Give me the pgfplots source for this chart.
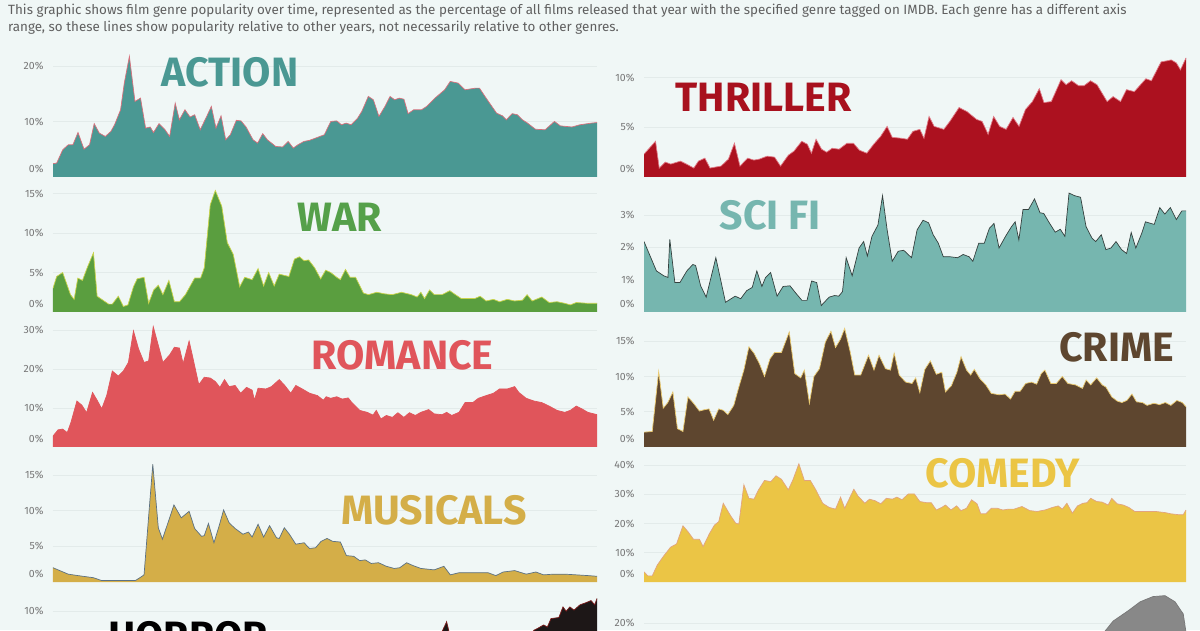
\documentclass[border=0pt]{standalone}
\usepackage{pgfplots}
\pgfplotsset{compat=1.18}
\usepackage{pgfplotstable}
\usepackage{fontspec}
\setmainfont{Fira Sans}

\definecolor{bg}{HTML}{F0F7F6}
\definecolor{gridc}{HTML}{E3EBEA}
\definecolor{tickc}{HTML}{767676}
\definecolor{capc}{HTML}{606060}
\definecolor{actionF}{HTML}{4A9893}
\definecolor{actionL}{HTML}{D8707C}
\definecolor{thrF}{HTML}{AC111F}
\definecolor{thrL}{HTML}{E07A86}
\definecolor{thrT}{HTML}{A8111E}
\definecolor{warF}{HTML}{5A9E3F}
\definecolor{warL}{HTML}{C9D34B}
\definecolor{warT}{HTML}{55A04A}
\definecolor{sciF}{HTML}{76B6AF}
\definecolor{sciL}{HTML}{35403E}
\definecolor{romF}{HTML}{E0555B}
\definecolor{romL}{HTML}{E0555B}
\definecolor{crimeF}{HTML}{5E462F}
\definecolor{crimeL}{HTML}{EBCB72}
\definecolor{musF}{HTML}{D4AE48}
\definecolor{musL}{HTML}{5B7184}
\definecolor{comF}{HTML}{EBC545}
\definecolor{comL}{HTML}{E2A47F}
\definecolor{horF}{HTML}{1D1717}
\definecolor{horL}{HTML}{7A1A1A}
\definecolor{greyF}{HTML}{888888}
\definecolor{greyL}{HTML}{777777}

\pgfplotstableread{
year pct
1900 2.4
1900.8 2.5
1902.1 4.9
1903.3 5.8
1904.3 5.8
1905.4 8.0
1906.7 5.0
1907.9 5.8
1908.9 9.6
1910 7.9
1911.3 7.3
1912.5 8.2
1913.3 9.4
1914.6 12.1
1915.4 16.9
1916.5 21.7
1917.7 13.6
1918.9 14.2
1920 8.8
1921 9.0
1921.7 8.0
1922.9 9.6
1924.2 8.5
1925.2 7.3
1926.4 13.3
1927.3 10.3
1928.5 12.1
1929.6 10.8
1930.6 11.2
1931.8 8.5
1933.2 10.9
1934.2 12.7
1935.2 8.8
1936.3 11.0
1937.3 6.7
1938.3 7.6
1939.6 10.2
1940.6 10.1
1941.7 9.0
1943.2 6.7
1944.2 6.1
1945.3 7.8
1946.3 6.7
1948.1 5.5
1949.6 5.4
1950.8 6.4
1951.9 5.2
1952.9 5.8
1954.2 6.4
1955.4 6.6
1956.7 7.0
1958.6 7.6
1960 10.0
1961.3 10.1
1962.3 9.4
1963.3 9.7
1964.4 9.4
1965.8 10.6
1966.7 11.8
1968.1 14.5
1969.2 13.9
1970.4 10.9
1971.7 12.7
1972.8 14.5
1973.8 13.9
1974.8 14.2
1975.8 14.0
1976.7 11.4
1977.9 12.1
1979.6 12.1
1980.7 12.7
1982.5 14.2
1984.6 15.7
1985.8 17.2
1987.5 16.9
1989 15.7
1991.3 16.0
1992.1 16.0
1993.8 13.9
1995.8 11.5
1997.1 11.0
1997.9 10.3
1999.2 11.4
2000.3 11.2
2001.4 10.3
2002.5 9.7
2004.2 8.6
2006.3 8.5
2008.3 10.0
2009.6 9.2
2012.1 9.0
2013.8 9.4
2016.3 9.7
2017.5 9.8
}\actiondata

\pgfplotstableread{
year pct
1900 2.3
1902.5 3.6
1903.3 0.9
1904.6 1.5
1905.8 1.3
1907.9 1.6
1909.2 1.3
1910.8 0.9
1911.8 1.6
1913.2 1.9
1914.3 0.9
1916.7 1.1
1918.3 1.8
1919.6 3.4
1920.8 1.1
1922.5 1.9
1923.8 1.7
1925 1.8
1926.7 2.1
1928.3 2.0
1929.6 1.1
1931.3 2.2
1932.5 2.6
1934.2 3.6
1935.4 3.3
1936.3 2.4
1937.3 3.8
1938.5 2.8
1939.6 2.5
1940.8 2.9
1942.3 2.8
1944 3.4
1945.4 3.4
1946.7 2.7
1948.3 2.4
1949.8 3.3
1951.3 4.1
1952.7 5.1
1953.8 4.0
1955.8 3.9
1957.1 3.8
1958.3 4.6
1959.8 4.8
1960.7 3.9
1961.8 6.1
1962.9 5.1
1965 4.8
1966.3 5.6
1968.3 7.0
1970 6.6
1972.1 5.8
1973.3 5.6
1974.6 4.3
1975.8 6.1
1977.1 5.1
1978.5 4.8
1980 6.0
1981.3 5.1
1982.7 6.8
1984.2 7.6
1985.7 8.9
1986.7 7.5
1988.3 7.6
1990.4 9.8
1991.5 9.3
1992.7 9.7
1994.2 9.2
1995.4 9.2
1996.8 9.7
1998.2 9.3
2000.4 7.6
2001.7 8.1
2003.3 7.6
2004.6 8.8
2006.3 8.6
2008.8 9.9
2010 9.7
2012.1 11.6
2013.3 11.7
2014.3 11.8
2015.4 11.5
2016.3 10.8
2017.5 12.0
}\thrillerdata

\pgfplotstableread{
year pct
1900 3.0
1900.8 4.5
1902.1 5.0
1902.9 3.7
1903.8 2.2
1904.6 1.6
1905.4 4.3
1906.4 4.0
1907.5 5.7
1908.8 7.5
1909.6 2.0
1910.6 1.6
1912.1 1.0
1912.9 1.0
1914.2 2.0
1915.3 0.7
1916.3 0.9
1917.5 3.2
1918.3 4.2
1919.8 4.4
1920.8 1.1
1921.9 2.8
1922.9 3.4
1923.9 2.2
1925.2 4.0
1926.4 1.3
1927.5 1.3
1928.8 2.2
1930.8 4.3
1932.1 4.3
1932.9 5.6
1934.2 13.6
1935.3 15.4
1936.7 13.4
1937.9 8.8
1939.2 7.3
1940.6 3.2
1941.7 4.4
1943.3 4.1
1944.6 5.5
1945.8 3.3
1946.9 5.0
1948.1 3.3
1949.2 4.8
1951.3 4.5
1952.5 6.7
1953.6 7.0
1954.6 6.5
1955.6 6.6
1956.9 5.6
1958.2 4.2
1959.3 5.3
1960.4 5.0
1961.7 4.4
1962.5 4.1
1963.6 5.4
1964.6 4.4
1965.8 4.4
1967.5 2.4
1968.6 2.2
1970.4 2.5
1972.1 2.3
1973.8 2.2
1975.8 2.5
1977.9 2.2
1979.2 1.9
1980 2.5
1980.8 1.7
1981.9 2.8
1982.9 2.2
1984.6 2.2
1986.3 2.7
1987.5 2.2
1988.8 1.7
1990.4 1.7
1991.7 1.7
1992.9 2.0
1994.2 1.4
1995.8 1.6
1997.1 1.3
1998.8 1.6
2000.4 1.4
2002.1 1.5
2003.1 2.2
2004.2 1.4
2006.3 1.9
2007.9 1.2
2009.6 1.3
2011.3 1.1
2012.5 0.9
2013.8 1.2
2016.3 1.1
2018.3 1.1
}\wardata

\pgfplotstableread{
year pct
1900 2.18
1902.7 1.27
1904.3 1.12
1905.2 1.07
1905.6 2.25
1906.7 0.91
1907.8 0.91
1909.3 1.27
1910.6 1.47
1911.2 1.44
1912.3 0.81
1913.5 0.46
1915.6 1.68
1917.7 0.30
1919.8 0.49
1921 0.41
1922.3 0.66
1923.5 0.76
1924.5 1.27
1925.6 0.79
1926.4 1.07
1927.5 1.22
1928.9 0.49
1930.2 0.79
1931.7 0.81
1933.1 0.56
1934.3 0.36
1935.4 0.36
1936.4 0.96
1937.5 0.91
1938.5 0.20
1940.2 0.46
1941.4 0.51
1942.3 0.49
1943.1 0.63
1943.9 1.68
1945.2 1.12
1946.7 1.98
1947.7 2.18
1948.5 1.73
1949.5 2.34
1950.8 2.69
1951.8 3.60
1952.8 2.54
1953.9 1.57
1955.2 1.88
1956.4 1.91
1958.1 1.68
1959.3 2.54
1960.6 2.84
1961.8 2.76
1962.8 2.39
1963.9 2.13
1965 1.71
1966.4 1.71
1968.1 1.68
1969.3 1.78
1970.6 1.71
1971.4 1.57
1972.7 2.13
1973.9 2.13
1975 2.59
1976 2.74
1977.1 1.98
1978.5 2.34
1979.8 2.64
1980.6 2.79
1981.4 2.23
1982.3 3.17
1983.5 3.17
1984.8 3.50
1986 3.07
1986.8 3.05
1988.1 2.74
1989.3 2.47
1990.4 2.56
1991.4 2.34
1992.3 3.68
1993.5 3.60
1994.8 3.55
1996 2.64
1997.3 2.28
1998.1 2.18
1999.3 2.39
2000.3 1.93
2001.4 1.98
2002.5 2.18
2003.7 1.93
2004.8 1.81
2005.8 2.46
2006.8 1.98
2008.1 2.44
2008.9 2.79
2010.8 2.71
2012 3.23
2013.1 3.03
2014.3 3.23
2015.6 2.86
2016.8 3.13
2017.7 3.13
}\scifidata

\pgfplotstableread{
year pct
1900 2.8
1901.1 4.4
1902.1 4.6
1903.1 3.7
1903.9 6.3
1905.2 11.8
1906.3 10.7
1907.3 8.8
1908.6 14.0
1909.6 12.0
1910.6 9.8
1911.7 13.3
1912.9 19.5
1914.2 18.2
1915.3 19.5
1916.4 21.7
1917.5 29.8
1918.6 25.2
1919.8 21.7
1920.8 22.1
1921.8 30.9
1922.9 26.1
1923.9 21.7
1925.4 23.7
1926.4 25.6
1927.5 25.4
1928.3 21.4
1929.6 27.2
1930.4 23.0
1931.7 16.0
1932.9 17.9
1934.2 17.7
1935.3 16.8
1936.3 15.3
1937.3 17.3
1938.3 15.5
1939.6 15.8
1940.8 13.8
1942.1 15.3
1943.3 14.6
1943.8 12.0
1944.6 15.1
1946.3 14.9
1947.5 15.5
1949.2 17.3
1950.4 15.8
1951.7 13.8
1952.8 15.8
1954.2 14.9
1955.8 13.8
1957.5 13.2
1958.8 12.0
1959.4 12.9
1960.4 12.5
1961.7 12.9
1962.9 12.3
1964.2 12.6
1965 11.4
1966.7 9.4
1968.3 8.9
1969.6 8.2
1970.3 9.4
1971.3 7.2
1972.5 8.1
1973.8 7.6
1975 8.8
1976.3 7.6
1977.5 8.8
1978.8 8.1
1980 8.9
1981.7 9.6
1982.9 8.5
1984.6 8.3
1985.6 8.9
1986.7 8.1
1988.3 8.9
1989.6 11.4
1991.3 11.4
1992.5 12.5
1994.2 13.2
1995.8 13.8
1997.1 14.9
1998.8 14.9
2000.4 15.5
2001.3 14.0
2002.9 12.5
2004.6 11.8
2006.3 11.4
2007.9 10.5
2009.6 9.4
2011.3 8.9
2012.5 9.4
2013.8 10.5
2015 9.8
2016.3 8.9
2018.3 8.3
}\romancedata

\pgfplotstableread{
year pct
1900 2.1
1901.8 2.2
1903.2 10.7
1904.2 5.5
1905.2 6.3
1906.3 7.8
1907.3 2.6
1908.5 2.2
1909.6 7.1
1910.8 6.2
1912.1 5.1
1913.3 5.3
1914.2 5.4
1915.2 3.8
1916.3 5.4
1917.3 5.2
1918.3 4.6
1919.6 5.9
1920.7 8.5
1921.8 10.9
1922.9 14.2
1924 13.3
1925.2 11.8
1926.3 10.0
1927.5 12.5
1928.5 13.4
1930 13.4
1931.7 16.3
1932.9 10.4
1934.2 9.8
1935 10.9
1936.1 6.2
1937.1 10.0
1938.3 11.1
1939.6 14.9
1940.8 16.4
1941.8 14.1
1942.9 15.3
1943.8 16.8
1945 13.5
1946 10.2
1947.3 10.2
1949 13.0
1950.2 10.9
1951.3 13.0
1952.7 11.1
1953.8 10.9
1954.6 13.3
1955.7 10.2
1957.1 9.2
1958.5 9.0
1959.3 9.8
1960.2 7.7
1961.3 11.0
1962.5 12.2
1963.8 10.3
1965 10.6
1965.8 7.8
1967.1 8.7
1968.3 10.6
1969.2 12.8
1970.4 10.9
1971.3 10.2
1972.1 11.0
1973.3 9.7
1974.6 8.8
1975.8 7.6
1977.5 7.4
1978.8 7.5
1980 6.8
1981 7.9
1982.1 7.9
1983.3 9.0
1984.6 9.2
1985.7 8.9
1986.7 10.4
1987.5 10.9
1988.8 9.0
1990 9.0
1991.3 10.0
1992.5 9.0
1994.2 8.8
1995.7 8.3
1996.5 9.5
1997.5 8.8
1998.8 9.8
2000 8.8
2000.8 8.5
2002.1 7.1
2003.3 6.5
2004.3 6.3
2005.4 6.6
2006.5 7.5
2007.5 6.4
2008.8 6.3
2009.8 5.9
2011.3 6.2
2012.5 6.0
2013.8 6.3
2015 5.9
2016.3 6.6
2017.5 6.3
2018.3 5.7
}\crimedata

\pgfplotstableread{
year pct
1900 2.0
1903.3 1.1
1905.4 0.9
1908.8 0.6
1910.6 0.2
1917.9 0.2
1918.9 0.6
1919.8 1.0
1920.8 9.2
1921.7 16.5
1922.9 7.6
1923.8 6.0
1926.3 10.8
1927.9 9.0
1929.6 9.9
1930.8 7.5
1932.3 6.4
1932.9 6.5
1933.8 8.2
1935 5.5
1936.1 7.8
1937.1 10.1
1938.3 8.3
1939.6 7.5
1941.3 6.7
1942.5 7.0
1943.3 6.3
1944.6 8.1
1945.8 6.3
1947.1 7.9
1948.6 6.2
1949.2 6.1
1950.3 7.6
1951.4 6.7
1952.8 5.3
1954.6 5.5
1955.8 4.7
1957.1 4.8
1958.3 5.7
1959.6 6.1
1960.8 5.7
1962.5 5.6
1963.8 3.7
1965.4 3.6
1966.7 3.0
1967.9 3.1
1969.2 2.6
1970.8 2.7
1972.5 2.2
1974.2 1.9
1975.4 2.0
1976.9 2.7
1978.3 2.3
1980 1.9
1982.9 1.7
1985 2.2
1986.4 1.0
1988.3 1.3
1990.4 1.3
1992.5 1.3
1994.6 1.3
1996.3 0.9
1997.9 1.4
2000.4 1.6
2002.9 1.1
2005 1.4
2006.7 1.0
2008.8 1.1
2011.3 1.1
2013.8 1.0
2016.3 0.9
2018.3 0.8
}\musicaldata

\pgfplotstableread{
year pct
1900 3.5
1900.8 2.1
1901.8 2.1
1902.9 5.8
1904.2 8.7
1905.8 11.9
1907.1 13.0
1908.5 19.2
1909.6 17.2
1910.8 14.6
1912.1 14.6
1912.9 12.1
1914.3 16.6
1915.4 19.5
1916.3 20.6
1917.3 26.9
1918.8 22.9
1920 20.1
1920.7 19.8
1921.8 33.2
1922.9 28.6
1924 28.3
1925 31.5
1926.3 34.7
1927.7 34.3
1928.8 36.3
1930 35.1
1931.5 31.5
1932.5 34.9
1933.8 40.4
1935 34.7
1936.3 34.7
1937.5 31.5
1939 26.9
1940.4 25.5
1941.8 24.9
1942.9 29.0
1943.8 25.2
1944.6 27.8
1945.8 31.7
1946.7 29.4
1948.2 26.9
1949.2 28.3
1950.4 27.8
1951.7 26.7
1952.9 28.6
1954.2 28.3
1955.2 29.0
1956.3 28.1
1957.7 30.1
1959 30.1
1960.2 27.5
1961.7 27.1
1962.7 27.1
1963.8 24.6
1965 25.5
1965.8 26.3
1967 24.6
1968.2 26.0
1969.2 24.4
1970.4 25.2
1971.5 28.1
1972.7 26.7
1973.5 23.3
1974.6 23.3
1975.8 25.2
1977.1 25.2
1978.3 24.6
1979.6 24.9
1980.8 24.9
1982.5 25.8
1984.2 24.4
1985.8 24.1
1987.5 24.6
1989.2 25.5
1990.4 26.0
1991.3 24.9
1992.3 26.9
1993.5 23.5
1994.6 26.0
1995.8 26.9
1996.7 27.1
1997.5 28.6
1998.8 27.5
2000 27.3
2001.3 26.3
2002.1 28.6
2003.3 26.7
2004.6 26.3
2005.8 25.5
2007.1 24.1
2009.2 24.1
2011.7 24.1
2013.8 23.7
2015 23.3
2016.7 23.0
2017.7 23.0
2018.3 24.6
}\comedydata

\pgfplotstableread{
year pct
1900 3.0
1910 4.0
1920 3.5
1930 4.5
1940 4.0
1950 4.5
1960 5.5
1970 6.0
1975 6.5
1980 7.0
1984 7.5
1985.6 9.0
1986.6 7.2
1990 6.5
1995 6.0
2000 6.5
2003 7.3
2004.6 8.2
2005.5 8.4
2006.7 8.7
2007.5 8.5
2008.3 9.3
2010 9.4
2010.9 10.4
2011.6 10.0
2012.4 10.4
2013.3 10.1
2014.6 10.6
2015.9 10.8
2017 11.0
2017.8 10.6
2018.3 11.2
}\horrordata

\pgfplotstableread{
year pct
1900 5.0
1920 8.0
1940 10.0
1960 12.0
1980 14.0
1995 16.0
2000 17.5
2002.4 20.4
2005.7 22.6
2008.3 24.5
2011.1 25.6
2013.7 25.8
2015.9 24.5
2017.7 21.9
2018.3 18.0
}\greydata

\pgfplotsset{
  panel/.style={
    scale only axis, anchor=south west, height=127pt,
    xmin=1900, ymin=0,
    axis line style={draw=none}, major tick style={draw=none}, minor tick style={draw=none},
    xtick=\empty,
    ymajorgrids, grid style={color=gridc, line width=0.7pt},
    /pgf/number format/assume math mode=true,
    yticklabel={\pgfmathprintnumber{\tick}\%},
    yticklabel style={font=\fontsize{10.5}{12}\selectfont, text=tickc, xshift=-6pt},
  },
  zerolabel/.style={
    extra y ticks={0}, extra y tick labels={0\%},
    extra y tick style={grid=none, yticklabel style={yshift=8pt}},
  },
  left/.style={panel, width=544pt},
  right/.style={panel, width=542pt},
}
\newcommand{\titlenode}[4]{\node[text=#3, font=\fontsize{41}{45}\selectfont\bfseries, inner sep=0] at (#1pt,#2pt) {#4};}

\begin{document}
\begin{tikzpicture}
\useasboundingbox (0,0) rectangle (1200pt,630pt);
\fill[bg] (0,0) rectangle (1200pt,630pt);
\clip (0,0) rectangle (1200pt,630pt);

\node[anchor=base west, inner sep=0, text=capc, font=\fontsize{13.4}{15}\selectfont] at (8pt,615.5pt) {This graphic shows film genre popularity over time, represented as the percentage of all films released that year with the specified genre tagged on IMDB. Each genre has a different axis};
\node[anchor=base west, inner sep=0, text=capc, font=\fontsize{13.4}{15}\selectfont] at (8pt,598pt) {range, so these lines show popularity relative to other years, not necessarily relative to other genres.};

% Row 1
\begin{axis}[left, zerolabel, at={(53pt,453pt)}, height=130pt, xmax=2017.5, ymax=23.4, ytick={10,20}]
\addplot[draw=none, fill=actionF] table {\actiondata} \closedcycle;
\addplot[draw=actionL, line width=0.7pt] table {\actiondata};
\end{axis}
\begin{axis}[right, zerolabel, at={(644pt,453pt)}, height=130pt, xmax=2017.5, ymax=13.1, ytick={5,10}]
\addplot[draw=none, fill=thrF] table {\thrillerdata} \closedcycle;
\addplot[draw=thrL, line width=0.7pt] table {\thrillerdata};
\end{axis}
% Row 2
\begin{axis}[left, zerolabel, at={(53pt,318pt)}, xmax=2018.3, ymax=16.1, ytick={5,10,15}]
\addplot[draw=none, fill=warF] table {\wardata} \closedcycle;
\addplot[draw=warL, line width=0.7pt] table {\wardata};
\end{axis}
\begin{axis}[right, zerolabel, at={(644pt,318pt)}, xmax=2017.7, ymax=3.93, ytick={1,2,3}]
\addplot[draw=none, fill=sciF] table {\scifidata} \closedcycle;
\addplot[draw=sciL, line width=0.7pt] table {\scifidata};
\end{axis}
% Row 3
\begin{axis}[left, zerolabel, at={(53pt,183pt)}, xmax=2018.3, ymax=32.6, ytick={10,20,30}]
\addplot[draw=none, fill=romF] table {\romancedata} \closedcycle;
\addplot[draw=romL, line width=0.7pt] table {\romancedata};
\end{axis}
\begin{axis}[right, zerolabel, at={(644pt,183pt)}, xmax=2018.3, ymax=18.0, ytick={5,10,15}]
\addplot[draw=none, fill=crimeF] table {\crimedata} \closedcycle;
\addplot[draw=crimeL, line width=0.7pt] table {\crimedata};
\end{axis}
% Row 4
\begin{axis}[left, zerolabel, at={(53pt,48pt)}, xmax=2018.3, ymax=17.8, ytick={5,10,15}]
\addplot[draw=none, fill=musF] table {\musicaldata} \closedcycle;
\addplot[draw=musL, line width=0.7pt] table {\musicaldata};
\end{axis}
\begin{axis}[right, zerolabel, at={(644pt,48pt)}, xmax=2018.3, ymax=43.4, ytick={10,20,30,40}]
\addplot[draw=none, fill=comF] table {\comedydata} \closedcycle;
\addplot[draw=comL, line width=0.7pt] table {\comedydata};
\end{axis}
% Row 5 (cut off by the bottom edge, as in the reference)
\begin{axis}[left, at={(53pt,-87pt)}, xmax=2018.3, ymax=12.0, ytick={10}]
\addplot[draw=none, fill=horF] table {\horrordata} \closedcycle;
\addplot[draw=horL, line width=0.7pt] table {\horrordata};
\end{axis}
\begin{axis}[right, at={(644pt,-87pt)}, xmax=2018.3, ymax=27.0, ytick={20}]
\addplot[draw=none, fill=greyF] table {\greydata} \closedcycle;
\addplot[draw=greyL, line width=0.7pt] table {\greydata};
\end{axis}

\titlenode{230}{557.5}{actionF}{ACTION}
\titlenode{763.6}{532.5}{thrT}{THRILLER}
\titlenode{339.6}{412.5}{warT}{WAR}
\titlenode{770}{414.7}{sciF}{SCI FI}
\titlenode{402.6}{275}{romF}{ROMANCE}
\titlenode{1116.7}{282.5}{crimeF}{CRIME}
\titlenode{434}{119.7}{musF}{MUSICALS}
\titlenode{1003}{157}{comF}{COMEDY}
\titlenode{188}{-6}{black}{HORROR}
\end{tikzpicture}
\end{document}
